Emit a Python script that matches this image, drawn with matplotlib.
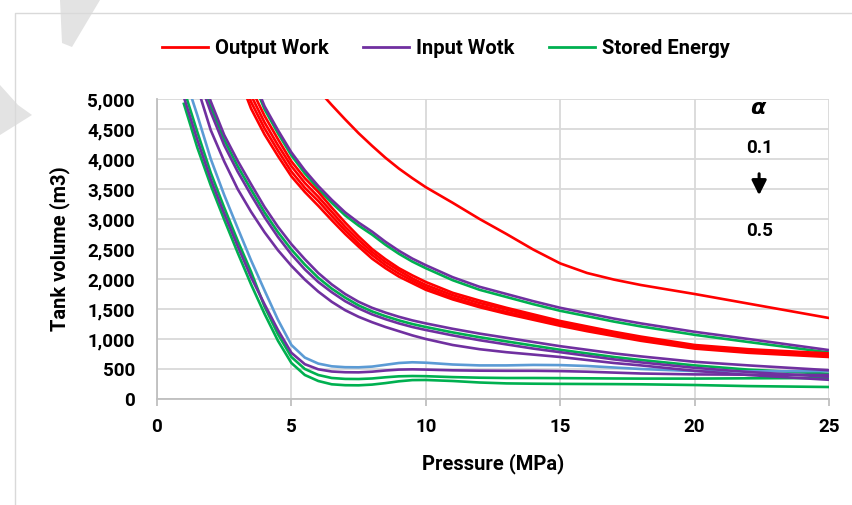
import numpy as np
import matplotlib.pyplot as plt
from matplotlib.lines import Line2D
from matplotlib.patches import Polygon

nan = np.nan
plt.rcParams['font.family'] = ['Roboto', 'DejaVu Sans']
plt.rcParams['font.weight'] = 'bold'

pressure = [1, 1.5, 2, 2.5, 3, 3.5, 4, 4.5, 5, 5.5, 6, 6.5, 7, 7.5, 8, 8.5,
            9, 9.5, 10, 11, 12, 13, 14, 15, 16, 17, 18, 20, 22, 25]

# output work (alpha 0.1 .. 0.5)
ow_01 = [nan] * 9 + [5450, 5150, 4900, 4660, 4430, 4220, 4020, 3840, 3680, 3530, 3270,
                     3000, 2750, 2490, 2260, 2100, 1990, 1900, 1750, 1590, 1350]
ow_02 = [nan] * 4 + [5800, 5180, 4720, 4330, 3960, 3680, 3450, 3190, 2940, 2710, 2500, 2330,
                     2180, 2060, 1950, 1770, 1640, 1520, 1410, 1300, 1210, 1120, 1040, 900, 830, 760]
ow_03 = [nan] * 4 + [5670, 5060, 4610, 4230, 3880, 3600, 3370, 3120, 2870, 2650, 2450, 2280,
                     2140, 2010, 1900, 1730, 1600, 1490, 1380, 1280, 1180, 1090, 1010, 880, 810, 740]
ow_04 = [nan] * 4 + [5540, 4950, 4510, 4140, 3790, 3520, 3300, 3050, 2810, 2590, 2400, 2230,
                     2090, 1970, 1860, 1690, 1560, 1450, 1350, 1250, 1160, 1070, 990, 860, 790, 720]
ow_05 = [nan] * 4 + [5420, 4840, 4410, 4050, 3710, 3450, 3220, 2980, 2750, 2540, 2340, 2180,
                     2040, 1930, 1820, 1660, 1530, 1420, 1320, 1220, 1130, 1050, 970, 840, 770, 700]

# input work
iw_01 = [nan] * 5 + [5430, 4880, 4480, 4110, 3810, 3550, 3320, 3110, 2940, 2790, 2620, 2470,
                     2340, 2230, 2030, 1870, 1750, 1630, 1520, 1430, 1340, 1260, 1120, 1000, 815]
iw_02 = [nan, 5600, 4960, 4400, 3970, 3580, 3200, 2870, 2580, 2330, 2100, 1910, 1750, 1620, 1520,
         1440, 1370, 1310, 1260, 1170, 1090, 1020, 950, 880, 820, 760, 710, 620, 560, 480]
iw_03 = [nan, 5400, 4780, 4230, 3790, 3400, 3030, 2700, 2410, 2160, 1950, 1780, 1630, 1510, 1410,
         1330, 1260, 1200, 1150, 1060, 980, 910, 840, 780, 720, 660, 610, 520, 450, 370]
iw_04 = [nan, 5200, 4480, 3960, 3500, 3120, 2780, 2480, 2220, 1990, 1790, 1620, 1480, 1370, 1280,
         1200, 1130, 1060, 1000, 900, 830, 780, 740, 700, 650, 600, 560, 470, 400, 320]
iw_05 = [5030, 4320, 3660, 3090, 2550, 2030, 1580, 1150, 770, 580, 495, 458, 446, 444, 455,
         475, 490, 494, 490, 478, 472, 470, 470, 465, 455, 440, 425, 410, 405, 400]

# stored energy
se_01 = [nan] * 5 + [5380, 4830, 4430, 4060, 3760, 3500, 3270, 3060, 2890, 2740, 2570, 2420,
                     2290, 2180, 1980, 1820, 1700, 1580, 1470, 1380, 1290, 1210, 1070, 950, 775]
se_02 = [nan, 5500, 4870, 4320, 3880, 3490, 3110, 2780, 2490, 2240, 2020, 1840, 1690, 1560, 1460,
         1380, 1310, 1250, 1200, 1110, 1030, 960, 890, 820, 760, 700, 650, 560, 490, 420]
se_03 = [5420, 4730, 4000, 3400, 2850, 2310, 1810, 1320, 900, 690, 590, 545, 530, 528, 540,
         570, 600, 612, 605, 575, 560, 560, 568, 565, 550, 525, 500, 465, 460, 467]
se_04 = [5160, 4450, 3770, 3190, 2640, 2120, 1540, 1080, 700, 500, 400, 350, 335, 333, 342,
         362, 378, 383, 380, 365, 355, 350, 350, 348, 345, 342, 340, 340, 345, 350]
se_05 = [4920, 4190, 3560, 2990, 2440, 1910, 1420, 970, 600, 400, 300, 245, 230, 228, 240,
         265, 295, 315, 317, 300, 275, 260, 255, 252, 250, 248, 245, 233, 215, 200]

RED = '#FF0000'
PURPLE = '#7030A0'
GREEN = '#00B050'
BLUE = '#5B9BD5'

fig = plt.figure(figsize=(8.52, 5.05), dpi=100)

# faint watermark shapes and chart border
wm = '#e3e3e3'
fig.patches.append(Polygon([(60, 505), (100, 505), (72, 458), (62, 462)], closed=True,
                           transform=None, facecolor=wm, edgecolor='none', zorder=0))
fig.patches.append(Polygon([(0, 420), (18, 400), (32, 390), (0, 370)], closed=True,
                           transform=None, facecolor=wm, edgecolor='none', zorder=0))
fig.add_artist(Line2D([15 / 852, 15 / 852, 1], [0, 1 - 13 / 505, 1 - 13 / 505],
                      transform=fig.transFigure, color='#d9d9d9', lw=1))

ax = fig.add_axes([157 / 852, 1 - 399 / 505, (829 - 157) / 852, 300 / 505])

lw = 1.9
for v in [se_01, se_02, se_04, se_05]:
    ax.plot(pressure, v, color=GREEN, lw=lw)
ax.plot(pressure, se_03, color=BLUE, lw=lw)
for v in [iw_01, iw_02, iw_03, iw_04, iw_05]:
    ax.plot(pressure, v, color=PURPLE, lw=lw)
for v in [ow_01, ow_02, ow_03, ow_04, ow_05]:
    ax.plot(pressure, v, color=RED, lw=lw)

ax.set_xlim(0, 25)
ax.set_ylim(0, 5000)
ax.set_xticks(range(0, 26, 5))
ax.set_yticks(range(0, 5001, 500))
ax.set_yticklabels([f'{t:,}' for t in range(0, 5001, 500)])
ax.grid(True, color='#d9d9d9', lw=1.3)
ax.set_axisbelow(True)
for s in ['top', 'right']:
    ax.spines[s].set_visible(False)
for s in ['left', 'bottom']:
    ax.spines[s].set_color('#bfbfbf')
    ax.spines[s].set_linewidth(1.3)
ax.tick_params(axis='x', length=5, color='#bfbfbf', width=1.3, labelsize=13.5, pad=9)
ax.tick_params(axis='y', length=0, labelsize=13.5, pad=16)
ax.set_xlabel('Pressure (MPa)', fontsize=14.5, fontweight='bold', labelpad=12)
ax.set_ylabel('Tank volume (m3)', fontsize=14.5, fontweight='bold', labelpad=12)

ax.text(22.4, 4850, r'$\boldsymbol{\alpha}$', fontsize=16, ha='center', va='center')
ax.text(22.4, 4180, '0.1', fontsize=13.5, ha='center', va='center')
ax.annotate('', xy=(22.4, 3350), xytext=(22.4, 3800),
            arrowprops=dict(arrowstyle='-|>', color='black', lw=2.2, mutation_scale=22))
ax.text(22.4, 2800, '0.5', fontsize=13.5, ha='center', va='center')

handles = [Line2D([], [], color=RED, lw=2),
           Line2D([], [], color=PURPLE, lw=2),
           Line2D([], [], color=GREEN, lw=2)]
fig.legend(handles, ['Output Work', 'Input Wotk', 'Stored Energy'], ncol=3,
           loc='center', bbox_to_anchor=(446 / 852, 1 - 49 / 505), frameon=False,
           fontsize=14.5, handlelength=2.3, handletextpad=0.35, columnspacing=1.7)

fig.savefig('out.png', dpi=100)
